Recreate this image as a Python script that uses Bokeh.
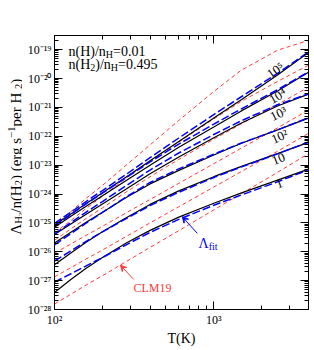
import numpy as np
from math import pi
from bokeh.plotting import figure
from bokeh.layouts import row
from bokeh.models import Label, Arrow, VeeHead, FixedTicker, LogAxis, CustomJSTickFormatter
from bokeh.embed import file_html
from bokeh.resources import INLINE

# ---------------- data (log10 of cooling per H2, erg s^-1) ----------------
temperature = [100, 126, 158, 200, 282, 398, 603, 1000, 1479, 2512, 3930]
density_labels = ["1", "10", "10²", "10³", "10⁴", "10⁵"]

# exact calculation (black solid)
exact_n1   = [-27.41, -26.97, -26.57, -26.20, -25.70, -25.26, -24.80, -24.32, -23.97, -23.52, -23.14]
exact_n10  = [-26.45, -26.05, -25.67, -25.31, -24.82, -24.36, -23.89, -23.40, -23.05, -22.60, -22.21]
exact_n1e2 = [-25.70, -25.33, -24.98, -24.63, -24.12, -23.65, -23.18, -22.65, -22.25, -21.78, -21.37]
exact_n1e3 = [-25.40, -25.05, -24.70, -24.35, -23.83, -23.30, -22.72, -22.05, -21.55, -20.95, -20.54]
exact_n1e4 = [-25.15, -24.78, -24.42, -24.06, -23.53, -23.00, -22.38, -21.68, -21.13, -20.43, -19.78]
exact_n1e5 = [-25.07, -24.70, -24.33, -23.96, -23.41, -22.85, -22.18, -21.37, -20.74, -19.88, -19.10]

# fit Lambda_fit (blue dashed)
fit_n1   = [-27.05, -26.77, -26.49, -26.20, -25.76, -25.33, -24.88, -24.39, -24.04, -23.58, -23.16]
fit_n10  = [-26.32, -25.98, -25.64, -25.31, -24.85, -24.40, -23.94, -23.43, -23.07, -22.61, -22.20]
fit_n1e2 = [-25.76, -25.38, -25.01, -24.64, -24.10, -23.60, -23.13, -22.62, -22.24, -21.78, -21.36]
fit_n1e3 = [-25.38, -25.00, -24.63, -24.26, -23.71, -23.17, -22.58, -21.94, -21.47, -20.91, -20.53]
fit_n1e4 = [-25.10, -24.72, -24.34, -23.97, -23.43, -22.89, -22.27, -21.58, -21.06, -20.39, -19.77]
fit_n1e5 = [-25.02, -24.64, -24.26, -23.88, -23.32, -22.74, -22.06, -21.25, -20.64, -19.82, -19.08]

# CLM19 (red dashed)
clm_n1   = [-27.81, -27.48, -27.15, -26.83, -26.34, -25.85, -25.27, -24.55, -24.00, -23.25, -22.60]
clm_n10  = [-26.87, -26.56, -26.25, -25.94, -25.47, -25.00, -24.44, -23.76, -23.23, -22.52, -21.90]
clm_n1e2 = [-26.05, -25.74, -25.43, -25.12, -24.65, -24.19, -23.63, -22.95, -22.42, -21.71, -21.09]
clm_n1e3 = [-25.60, -25.22, -24.85, -24.48, -23.93, -23.40, -22.80, -22.10, -21.58, -20.90, -20.30]
clm_n1e4 = [-25.35, -24.93, -24.50, -24.08, -23.45, -22.85, -22.20, -21.40, -20.80, -20.10, -19.54]
clm_n1e5 = [-25.10, -24.62, -24.15, -23.70, -23.00, -22.30, -21.45, -20.45, -19.72, -19.02, -18.68]

x_major_ticks = [100, 1000]
x_minor_ticks = [200, 300, 400, 500, 600, 700, 800, 900, 2000, 3000]
x_tick_exponents = [2, 3]
x_tick_labels = ["10²", "10³"]
y_tick_exponents = [-28, -27, -26, -25, -24, -23, -22, -21, -20, -19]
y_tick_labels = ["10⁻²⁸", "10⁻²⁷", "10⁻²⁶", "10⁻²⁵", "10⁻²⁴", "10⁻²³", "10⁻²²", "10⁻²¹", "10⁻²⁰", "10⁻¹⁹"]

# ---------------- layout sizes ----------------
FONT = "Liberation Serif"
STRIP_W = 22
TOTAL_H = 348
x_lo, x_hi = 100, 3930
y_lo, y_hi = 1e-28, 3.09e-19

p = figure(x_axis_type="log", y_axis_type="log",
           x_range=(x_lo, x_hi), y_range=(y_lo, y_hi),
           width=288, height=TOTAL_H,
           min_border_left=32, min_border_right=2, min_border_top=35, min_border_bottom=30,
           toolbar_location=None, output_backend="svg")
p.grid.visible = False
p.outline_line_color = "black"
p.outline_line_alpha = 1.0
p.outline_line_width = 1
p.background_fill_color = "white"
p.border_fill_color = "white"

y_major = [10.0 ** e for e in y_tick_exponents]
y_minor = [m * 10.0 ** e for e in y_tick_exponents for m in range(2, 10) if m * 10.0 ** e <= y_hi]

fmt_code = """
const e = Math.round(Math.log10(tick));
for (let i = 0; i < exps.length; i++) { if (exps[i] === e) return labs[i]; }
return "";
"""
x_fmt = CustomJSTickFormatter(args=dict(exps=x_tick_exponents, labs=x_tick_labels), code=fmt_code)
y_fmt = CustomJSTickFormatter(args=dict(exps=y_tick_exponents, labs=y_tick_labels), code=fmt_code)

def style_axis(ax, ticker, formatter, show_labels=True):
    ax.ticker = ticker
    ax.formatter = formatter
    ax.major_tick_in = 8
    ax.major_tick_out = 0
    ax.minor_tick_in = 4
    ax.minor_tick_out = 0
    ax.axis_line_color = "black"
    ax.major_tick_line_color = "black"
    ax.minor_tick_line_color = "black"
    ax.major_label_text_font = FONT
    ax.major_label_text_color = "black"
    ax.major_label_text_font_size = "12px"
    ax.major_label_standoff = 3 if show_labels else 0

style_axis(p.xaxis[0], FixedTicker(ticks=x_major_ticks, minor_ticks=x_minor_ticks), x_fmt)
style_axis(p.yaxis[0], FixedTicker(ticks=y_major, minor_ticks=y_minor), y_fmt)
p.xaxis[0].axis_label = "T(K)"
p.xaxis[0].axis_label_text_font = FONT
p.xaxis[0].axis_label_text_font_size = "14px"
p.xaxis[0].axis_label_text_font_style = "normal"
p.xaxis[0].axis_label_text_color = "black"
p.xaxis[0].axis_label_standoff = 1

top_ax = LogAxis()
right_ax = LogAxis()
style_axis(top_ax, FixedTicker(ticks=x_major_ticks, minor_ticks=x_minor_ticks),
           CustomJSTickFormatter(code="return '';"), False)
style_axis(right_ax, FixedTicker(ticks=y_major, minor_ticks=y_minor),
           CustomJSTickFormatter(code="return '';"), False)
p.add_layout(top_ax, "above")
p.add_layout(right_ax, "right")

T = np.array(temperature, dtype=float)
clm_sets = [clm_n1, clm_n10, clm_n1e2, clm_n1e3, clm_n1e4, clm_n1e5]
exact_sets = [exact_n1, exact_n10, exact_n1e2, exact_n1e3, exact_n1e4, exact_n1e5]
fit_sets = [fit_n1, fit_n10, fit_n1e2, fit_n1e3, fit_n1e4, fit_n1e5]

for s in clm_sets:
    p.line(T, 10.0 ** np.array(s), line_color="#ff3b3b", line_width=1.0, line_dash="4 3")
for s in exact_sets:
    p.line(T, 10.0 ** np.array(s), line_color="black", line_width=1.2)
for s in fit_sets:
    p.line(T, 10.0 ** np.array(s), line_color="#0000ff", line_width=1.5, line_dash="8 3")

# ---------------- text helpers ----------------
EM = {'n': 0.5, '(': 0.333, ')': 0.333, 'H': 0.722, '/': 0.278, '=': 0.564, '.': 0.25, ' ': 0.25,
      'e': 0.444, 'r': 0.333, 'g': 0.5, 's': 0.389, 'p': 0.5, 'Λ': 0.722, '−': 0.564, 'f': 0.333,
      'i': 0.278, 't': 0.278}

def text_width(txt, size):
    return sum(EM.get(c, 0.5) for c in txt) * size

def add_pieces(fig, x, y, x0, y0, pieces, color, vertical=False):
    off = 0.0
    for txt, size, shift in pieces:
        if vertical:
            lab = Label(x=x, y=y, x_offset=x0 - shift, y_offset=y0 + off, text=txt,
                        angle=pi / 2, text_font=FONT, text_font_size=f"{size}px",
                        text_color=color, text_align="left", text_baseline="alphabetic")
        else:
            lab = Label(x=x, y=y, x_offset=x0 + off, y_offset=y0 + shift, text=txt,
                        text_font=FONT, text_font_size=f"{size}px",
                        text_color=color, text_align="left", text_baseline="alphabetic")
        fig.add_layout(lab)
        off += text_width(txt, size)

# top-left annotation
add_pieces(p, 122.4, 1e-19, 0, -2.2, [("n(H)/n", 14, 0), ("H", 10, -3), ("=0.01", 14, 0)], "black")
add_pieces(p, 122.4, 1e-19, 0, -15.2, [("n(H", 14, 0), ("2", 10, -3), (")/n", 14, 0), ("H", 10, -3),
                                       ("=0.495", 14, 0)], "black")

# density labels on curves
curve_label_pos = [(2585, 2.25e-24, 20), (2547, 1.62e-23, 22), (2585, 9.9e-23, 24),
                   (2547, 6.1e-22, 26), (2512, 2.5e-21, 30), (2438, 1.95e-20, 35)]
for txt, (lx, ly, ang) in zip(density_labels, curve_label_pos):
    p.add_layout(Label(x=lx, y=ly, text=txt, angle=ang * pi / 180, text_font=FONT,
                       text_font_size="13px", text_align="center", text_baseline="middle",
                       text_color="black"))

# Lambda_fit annotation
add_pieces(p, 802, 2.0e-26, 0, 0, [("Λ", 14, 0), ("fit", 10, -3)], "#0000ff")
p.add_layout(Arrow(end=VeeHead(size=6, line_color="#0000ff", fill_color="#0000ff", line_width=1),
                   x_start=787, y_start=4.36e-26, x_end=634, y_end=1.63e-25,
                   line_color="#0000ff", line_width=1))

# CLM19 annotation
p.add_layout(Label(x=313, y=5.7e-28, text="CLM19", text_font=FONT, text_font_size="12px",
                   text_align="left", text_baseline="alphabetic", text_color="#ff3b3b"))
p.add_layout(Arrow(end=VeeHead(size=6, line_color="#ff3b3b", fill_color="#ff3b3b", line_width=1),
                   x_start=314.5, y_start=1.1e-27, x_end=259.4, y_end=3.42e-27,
                   line_color="#ff3b3b", line_width=1))

# ---------------- y-axis title strip (pixel coordinates) ----------------
strip = figure(width=STRIP_W, height=TOTAL_H, x_range=(0, STRIP_W), y_range=(0, TOTAL_H),
               min_border=0, toolbar_location=None, output_backend="svg",
               x_axis_location=None, y_axis_location=None)
strip.grid.visible = False
strip.outline_line_color = None
strip.background_fill_color = "white"
strip.border_fill_color = "white"
add_pieces(strip, 15.5, TOTAL_H - 253, 0, 0,
           [("Λ", 15, 0), ("H", 10.5, -2.5), ("2", 7, -4.5), ("/n(H", 15, 0), ("2", 10.5, -2.5),
            (") (erg s", 15, 0), ("−1", 10.5, 5), (" per H", 15, 0), ("2", 10.5, -2.5), (")", 15, 0)],
           "black", vertical=True)

layout = row(strip, p)
open("out.html", "w").write(file_html(layout, INLINE))
